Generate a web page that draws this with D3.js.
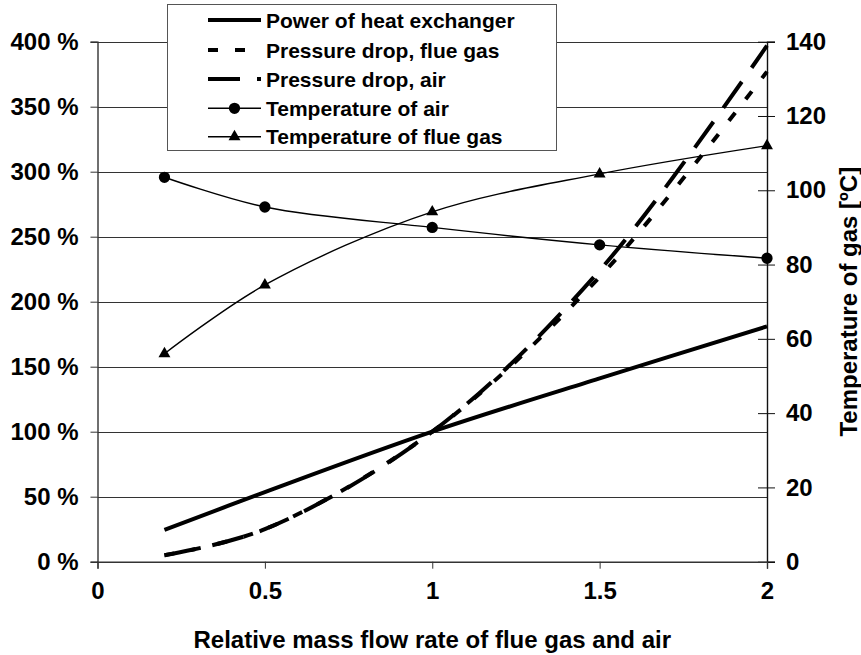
<!DOCTYPE html>
<html>
<head>
<meta charset="utf-8">
<script src="https://cdn.jsdelivr.net/npm/d3@7/dist/d3.min.js"></script>
<style>
  html, body { margin: 0; padding: 0; background: #fff; }
  svg { display: block; }
  text { font-family: "Liberation Sans", Arial, Helvetica, sans-serif; font-weight: bold; fill: #000; }
</style>
</head>
<body>
<svg id="chart" width="861" height="655"></svg>
<script>
// Relative mass flow rate (x) shared by every series
const flowRate = [0.2, 0.5, 1, 1.5, 2];

// Left axis series, percent of nominal
const powerHX = [24.4, 53.5, 100, 141, 181];
const pressureFlue = [5, 25, 100, 219, 377];
const pressureAir = [5, 25, 100, 224, 397];

// Right axis series, °C
const tempAir = [103.5, 95.5, 90, 85.3, 81.7];
const tempFlue = [56, 74.5, 94.2, 104.4, 112];

// Tick values
const xTicks = [0, 0.5, 1, 1.5, 2];
const leftTicks = [0, 50, 100, 150, 200, 250, 300, 350, 400];
const rightTicks = [0, 20, 40, 60, 80, 100, 120, 140];

const legendLabels = [
  "Power of heat exchanger",
  "Pressure drop, flue gas",
  "Pressure drop, air",
  "Temperature of air",
  "Temperature of flue gas"
];

const svg = d3.select("#chart");
const plot = { left: 97.5, right: 767, top: 41.7, bottom: 561.7 };

const x = d3.scaleLinear().domain([0, 2]).range([plot.left, plot.right]);
const yL = d3.scaleLinear().domain([0, 400]).range([plot.bottom, plot.top]);
const yR = d3.scaleLinear().domain([0, 140]).range([plot.bottom, plot.top]);

const curve = d3.curveCatmullRom.alpha(0.5);

// Horizontal gridlines
svg.append("g")
  .selectAll("line")
  .data(leftTicks.filter(d => d > 0))
  .join("line")
  .attr("x1", plot.left).attr("x2", plot.right)
  .attr("y1", d => Math.round(yL(d)) + 0.5).attr("y2", d => Math.round(yL(d)) + 0.5)
  .attr("stroke", "#333").attr("stroke-width", 1);

// Left axis
const gL = svg.append("g")
  .attr("transform", `translate(${plot.left},0)`)
  .call(d3.axisLeft(yL).tickValues(leftTicks).tickSize(7).tickPadding(12).tickFormat(d => d + " %"));
gL.select(".domain").attr("stroke", "#333").attr("stroke-width", 1.4);
gL.selectAll(".tick line").attr("stroke", "#333");
gL.selectAll(".tick text").style("font-size", "24px");

// Right axis with ticks crossing the axis line
const gR = svg.append("g")
  .attr("transform", `translate(${plot.right},0)`)
  .call(d3.axisRight(yR).tickValues(rightTicks).tickSize(8).tickPadding(11));
gR.select(".domain").attr("stroke", "#111").attr("stroke-width", 1.4);
gR.selectAll(".tick line").attr("x1", -9).attr("stroke", "#111");
gR.selectAll(".tick text").style("font-size", "24px");

// Bottom axis
const gB = svg.append("g")
  .attr("transform", `translate(0,${plot.bottom})`)
  .call(d3.axisBottom(x).tickValues(xTicks).tickSize(7).tickPadding(13).tickFormat(d3.format("")));
gB.select(".domain").attr("stroke", "#333").attr("stroke-width", 1.4);
gB.selectAll(".tick line").attr("stroke", "#333");
gB.selectAll(".tick text").style("font-size", "24px");

// Axis titles
svg.append("text")
  .attr("x", (plot.left + plot.right) / 2).attr("y", 648)
  .attr("text-anchor", "middle").style("font-size", "24px")
  .text("Relative mass flow rate of flue gas and air");

svg.append("text")
  .attr("transform", `translate(857,${(plot.top + plot.bottom) / 2}) rotate(-90)`)
  .attr("text-anchor", "middle").style("font-size", "24px")
  .text("Temperature of gas [ºC]");

// Series
const styles = [
  { values: powerHX, scale: yL, width: 4, dash: null, marker: null },
  { values: pressureFlue, scale: yL, width: 4, dash: "10,17", marker: null },
  { values: pressureAir, scale: yL, width: 4, dash: "32,17", marker: null },
  { values: tempAir, scale: yR, width: 1.4, dash: null, marker: "circle" },
  { values: tempFlue, scale: yR, width: 1.4, dash: null, marker: "triangle" }
];

const circleSym = d3.symbol().type(d3.symbolCircle).size(100);
const triSym = d3.symbol().type(d3.symbolTriangle).size(62);

styles.forEach(s => {
  const pts = flowRate.map((f, i) => [f, s.values[i]]);
  const line = d3.line().x(d => x(d[0])).y(d => s.scale(d[1])).curve(curve);
  svg.append("path")
    .attr("d", line(pts))
    .attr("fill", "none").attr("stroke", "#000")
    .attr("stroke-width", s.width)
    .attr("stroke-dasharray", s.dash);
  if (s.marker) {
    svg.append("g").selectAll("path")
      .data(pts).join("path")
      .attr("transform", d => `translate(${x(d[0])},${s.scale(d[1])})`)
      .attr("d", s.marker === "circle" ? circleSym() : triSym())
      .attr("fill", "#000");
  }
});

// Legend
const lg = svg.append("g");
lg.append("rect")
  .attr("x", 167.5).attr("y", 4.5).attr("width", 389).attr("height", 146)
  .attr("fill", "#fff").attr("stroke", "#555").attr("stroke-width", 1);

const rowY = [20, 50, 79, 108.3, 136.7];
styles.forEach((s, i) => {
  const row = lg.append("g").attr("transform", `translate(0,${rowY[i]})`);
  row.append("line")
    .attr("x1", 208).attr("x2", 261).attr("y1", 0).attr("y2", 0)
    .attr("stroke", "#000").attr("stroke-width", s.width)
    .attr("stroke-dasharray", s.dash);
  if (s.marker) {
    row.append("path")
      .attr("transform", "translate(234.5,0)")
      .attr("d", s.marker === "circle" ? circleSym() : triSym())
      .attr("fill", "#000");
  }
  row.append("text")
    .attr("x", 266).attr("y", 0).attr("dy", "0.36em")
    .style("font-size", "21px")
    .text(legendLabels[i]);
});
</script>
</body>
</html>
